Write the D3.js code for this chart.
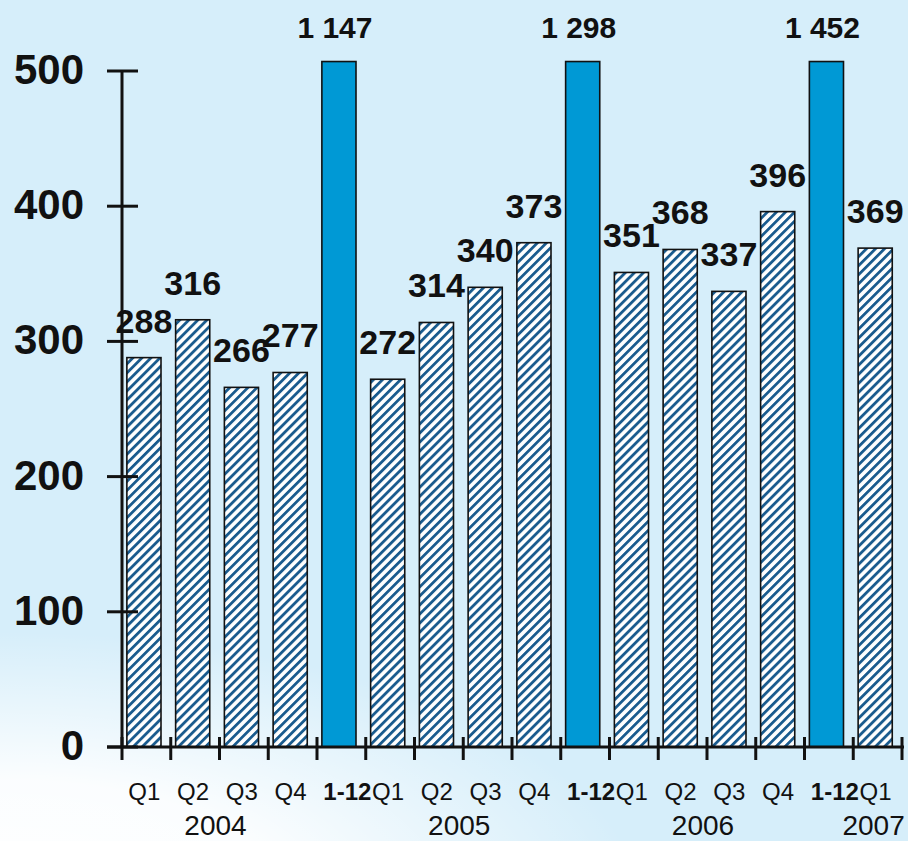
<!DOCTYPE html>
<html>
<head>
<meta charset="utf-8">
<script src="https://cdn.jsdelivr.net/npm/d3@7"></script>
<style>
  html, body { margin: 0; padding: 0; background: #d6eefa; }
  svg { display: block; font-family: "Liberation Sans", Arial, sans-serif; }
</style>
</head>
<body>
<svg id="chart" width="908" height="841"></svg>
<script>
// Quarterly figures with yearly totals (1-12) between the years
const categories = ["2004 Q1", "2004 Q2", "2004 Q3", "2004 Q4", "2004 1-12",
                    "2005 Q1", "2005 Q2", "2005 Q3", "2005 Q4", "2005 1-12",
                    "2006 Q1", "2006 Q2", "2006 Q3", "2006 Q4", "2006 1-12",
                    "2007 Q1"];
const tickLabels = ["Q1", "Q2", "Q3", "Q4", "1-12",
                    "Q1", "Q2", "Q3", "Q4", "1-12",
                    "Q1", "Q2", "Q3", "Q4", "1-12",
                    "Q1"];
const values = [288, 316, 266, 277, 1147,
                272, 314, 340, 373, 1298,
                351, 368, 337, 396, 1452,
                369];
const isTotal = [false, false, false, false, true,
                 false, false, false, false, true,
                 false, false, false, false, true,
                 false];
const years = ["2004", "2005", "2006", "2007"];
const yearGroups = [[0, 3], [5, 8], [10, 13], [15, 15]];
const yTicks = [0, 100, 200, 300, 400, 500];

const svg = d3.select("#chart");
const W = 908, H = 841;

// Background: light blue with a white sweep in the lower left
const defs = svg.append("defs");
const bg = defs.append("radialGradient")
  .attr("id", "bgSweep")
  .attr("gradientUnits", "userSpaceOnUse")
  .attr("cx", 0).attr("cy", 900).attr("r", 640)
  .attr("gradientTransform", "translate(0,900) scale(1,0.42) translate(0,-900)");
bg.append("stop").attr("offset", "0%").attr("stop-color", "#ffffff").attr("stop-opacity", 1);
bg.append("stop").attr("offset", "45%").attr("stop-color", "#ffffff").attr("stop-opacity", 0.9);
bg.append("stop").attr("offset", "100%").attr("stop-color", "#ffffff").attr("stop-opacity", 0);

svg.append("rect").attr("width", W).attr("height", H).attr("fill", "#d6eefa");
svg.append("rect").attr("width", W).attr("height", H).attr("fill", "url(#bgSweep)");

// Diagonal hatch for the quarterly bars
const hp = 6.4;
const hatch = defs.append("pattern")
  .attr("id", "hatch")
  .attr("patternUnits", "userSpaceOnUse")
  .attr("width", hp).attr("height", hp)
  .attr("patternTransform", "rotate(45)");
hatch.append("rect").attr("width", hp).attr("height", hp).attr("fill", "#ffffff");
hatch.append("rect").attr("x", 0).attr("width", 2.8).attr("height", hp).attr("fill", "#1a5b8e");

// Scales
const x = d3.scaleBand().domain(categories).range([122, 902]).paddingInner(0).paddingOuter(0);
const y = d3.scaleLinear().domain([0, 500]).range([747, 71]);
const capValue = 507; // totals run off the top of the value axis
const bw = x.bandwidth();
const barX = d => x(d) + bw * 0.1;
const barW = bw * 0.7;

const data = categories.map((c, i) => ({ cat: c, v: values[i], total: isTotal[i], label: tickLabels[i] }));

// Bars
svg.append("g").selectAll("rect")
  .data(data)
  .join("rect")
  .attr("x", d => barX(d.cat))
  .attr("width", barW)
  .attr("y", d => y(Math.min(d.v, capValue)))
  .attr("height", d => y(0) - y(Math.min(d.v, capValue)))
  .attr("fill", d => d.total ? "#0099d5" : "url(#hatch)")
  .attr("stroke", "#111")
  .attr("stroke-width", 1.6);

// Value labels
const fmt = v => v >= 1000 ? d3.format(",")(v).replace(",", " ") : String(v);
svg.append("g").selectAll("text")
  .data(data)
  .join("text")
  .attr("x", d => barX(d.cat) + barW / 2 + (d.total ? -4 : 0))
  .attr("y", d => d.total ? 38 : y(d.v) - 25)
  .attr("text-anchor", "middle")
  .attr("font-weight", "bold")
  .attr("font-size", d => d.total ? 30 : 34)
  .attr("fill", "#111")
  .text(d => fmt(d.v));

// Value axis
const yAxis = svg.append("g");
yAxis.append("line")
  .attr("x1", 122).attr("x2", 122)
  .attr("y1", y(500)).attr("y2", y(0))
  .attr("stroke", "#111").attr("stroke-width", 3);
yAxis.selectAll("line.tick")
  .data(yTicks)
  .join("line")
  .attr("class", "tick")
  .attr("x1", 107).attr("x2", 138)
  .attr("y1", d => y(d)).attr("y2", d => y(d))
  .attr("stroke", "#111").attr("stroke-width", 3);
yAxis.selectAll("text")
  .data(yTicks)
  .join("text")
  .attr("x", 84)
  .attr("y", d => y(d) + 13)
  .attr("text-anchor", "end")
  .attr("font-weight", "bold")
  .attr("font-size", 42)
  .attr("fill", "#111")
  .text(d => d);

// Category axis
const xAxis = svg.append("g");
xAxis.append("line")
  .attr("x1", 107).attr("x2", 904)
  .attr("y1", y(0)).attr("y2", y(0))
  .attr("stroke", "#111").attr("stroke-width", 3);
const boundaries = categories.map(c => x(c)).concat([x(categories[categories.length - 1]) + bw]);
xAxis.selectAll("line.tick")
  .data(boundaries)
  .join("line")
  .attr("class", "tick")
  .attr("x1", d => d).attr("x2", d => d)
  .attr("y1", y(0) - 10).attr("y2", y(0) + 13)
  .attr("stroke", "#111").attr("stroke-width", 3);
xAxis.selectAll("text.cat")
  .data(data)
  .join("text")
  .attr("class", "cat")
  .attr("x", d => x(d.cat) + bw / 2 + (d.total ? 6 : -2))
  .attr("y", 800)
  .attr("text-anchor", "middle")
  .attr("font-weight", d => d.total ? "bold" : "normal")
  .attr("font-size", 24)
  .attr("fill", "#111")
  .text(d => d.label);
xAxis.selectAll("text.year")
  .data(years)
  .join("text")
  .attr("class", "year")
  .attr("x", (d, i) => {
    const g = yearGroups[i];
    const left = x(categories[g[0]]);
    const right = x(categories[g[1]]) + bw;
    return (left + right) / 2 - 4;
  })
  .attr("y", 835)
  .attr("text-anchor", "middle")
  .attr("font-size", 28)
  .attr("fill", "#111")
  .text(d => d);
</script>
</body>
</html>
